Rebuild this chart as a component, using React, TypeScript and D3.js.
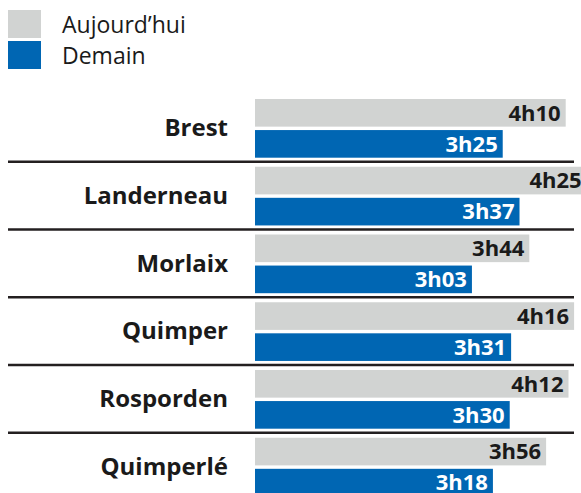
import React from 'react';
import * as d3 from 'd3';

// travel times in minutes, per station
const cities = ['Brest', 'Landerneau', 'Morlaix', 'Quimper', 'Rosporden', 'Quimperlé'];
const today = [250, 265, 224, 256, 252, 236];
const tomorrow = [205, 217, 183, 211, 210, 198];
const seriesNames = ['Aujourd’hui', 'Demain'];
const seriesColors = ['#d1d3d2', '#0066b3'];
const labelColors = ['#1a1a1a', '#ffffff'];

const W = 581;
const H = 493;
const font = '"Open Sans", sans-serif';

const fmt = (m: number) => `${Math.floor(m / 60)}h${String(m % 60).padStart(2, '0')}`;

const App = () => {
  // rows
  const y = d3.scaleBand<string>().domain(cities).range([99, 99 + 67.75 * cities.length]);
  // two bars within a row
  const inner = d3.scaleBand<number>().domain([0, 1]).range([0, 58.7]).paddingInner(0.11);
  // bars do not start at zero in the original
  const x = d3.scaleLinear().domain([28, 250]).range([255, 565.7]);

  const values = [today, tomorrow];

  return (
    <svg width={W} height={H} style={{ position: 'absolute', left: 0, top: 0, background: '#fff' }}>
      {/* legend */}
      {seriesNames.map((name, i) => (
        <g key={name} transform={`translate(8,${10 + i * 31})`}>
          <rect width={33} height={28} fill={seriesColors[i]} />
          <text x={54} y={22.5} fontFamily={font} fontSize={23} fill="#1a1a1a">
            {name}
          </text>
        </g>
      ))}

      {cities.map((c, ci) => {
        const top = y(c)!;
        return (
          <g key={c}>
            <text
              x={228}
              y={top + 37}
              textAnchor="end"
              fontFamily={font}
              fontWeight={700}
              fontSize={24}
              fill="#1a1a1a"
            >
              {c}
            </text>
            {values.map((vals, si) => {
              const by = top + inner(si)!;
              const bh = inner.bandwidth();
              const xe = x(vals[ci]);
              return (
                <g key={si}>
                  <rect x={x.range()[0]} y={by} width={xe - x.range()[0]} height={bh} fill={seriesColors[si]} />
                  <text
                    x={xe - 5}
                    y={by + bh / 2 + 7.8}
                    textAnchor="end"
                    fontFamily={font}
                    fontWeight={700}
                    fontSize={22}
                    fill={labelColors[si]}
                  >
                    {fmt(vals[ci])}
                  </text>
                </g>
              );
            })}
            <line x1={8} x2={574} y1={top + 62.7} y2={top + 62.7} stroke="#231f20" strokeWidth={2.5} />
          </g>
        );
      })}
    </svg>
  );
};

export default App;
